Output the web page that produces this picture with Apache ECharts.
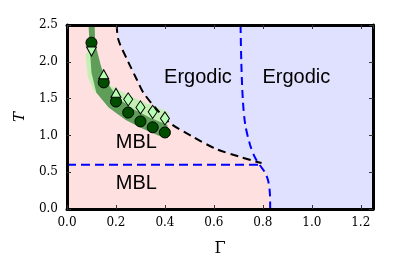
<!DOCTYPE html>
<html><head><meta charset="utf-8">
<script src="https://cdn.jsdelivr.net/npm/echarts@6/dist/echarts.min.js"></script>
<style>html,body{margin:0;padding:0;background:#fff}#c{width:415px;height:256px}</style>
</head><body><div id="c"></div>
<script>
// Phase boundary (black dashed): Gamma vs T
const blackG = [0.203, 0.21, 0.25, 0.285, 0.312, 0.36, 0.42, 0.515, 0.61, 0.705, 0.773, 0.795];
const blackT = [2.5, 2.30, 2.0, 1.76, 1.58, 1.38, 1.17, 0.98, 0.815, 0.71, 0.643, 0.625];
// Blue dashed boundary
const blueG = [0.709, 0.712, 0.718, 0.728, 0.748, 0.768, 0.787, 0.808, 0.822, 0.829, 0.83];
const blueT = [2.5, 2.0, 1.5, 1.15, 0.87, 0.70, 0.60, 0.50, 0.38, 0.20, 0.0];
// Horizontal blue dashed
const hG = [0.0, 0.787];
const hT = [0.6, 0.6];
// Pink (MBL) region outline
const pinkG = [0.0, 0.0, 0.203, 0.21, 0.25, 0.285, 0.312, 0.36, 0.42, 0.515, 0.61, 0.705, 0.773, 0.795, 0.810, 0.823, 0.830, 0.832];
const pinkT = [0.0, 2.5, 2.5, 2.30, 2.0, 1.76, 1.58, 1.38, 1.17, 0.98, 0.815, 0.71, 0.643, 0.62, 0.52, 0.38, 0.20, 0.0];
// Dark green band
const darkUpG = [0.113, 0.115, 0.14, 0.165, 0.21, 0.27, 0.34, 0.41];
const darkUpT = [2.5, 2.25, 1.93, 1.71, 1.50, 1.36, 1.24, 1.14];
const darkLoG = [0.088, 0.092, 0.10, 0.12, 0.17, 0.24, 0.31, 0.38, 0.41];
const darkLoT = [2.5, 2.25, 1.85, 1.58, 1.38, 1.21, 1.09, 0.99, 0.96];
// Light green band
const lightUpG = [0.095, 0.13, 0.176, 0.22, 0.27, 0.32, 0.37, 0.415];
const lightUpT = [2.18, 1.90, 1.68, 1.60, 1.52, 1.44, 1.38, 1.31];
const lightLoG = [0.075, 0.085, 0.11, 0.15, 0.2, 0.25, 0.3, 0.35, 0.41];
const lightLoT = [2.1, 1.8, 1.6, 1.5, 1.4, 1.33, 1.25, 1.2, 1.14];
// Circles
const circG = [0.10, 0.15, 0.20, 0.25, 0.30, 0.35, 0.40];
const circT = [2.26, 1.72, 1.46, 1.31, 1.19, 1.11, 1.04];
// Down triangle, up triangles, diamonds
const downG = [0.10];
const downT = [2.14];
const upG = [0.15, 0.20];
const upT = [1.83, 1.58];
const diaG = [0.25, 0.30, 0.35, 0.40];
const diaT = [1.49, 1.38, 1.32, 1.23];
// Annotations
const annText = ['Ergodic', 'Ergodic', 'MBL', 'MBL'];
const annG = [0.535, 0.937, 0.283, 0.283];
const annT = [1.79, 1.79, 0.90, 0.34];
const yTicks = ['0.0','0.5','1.0','1.5','2.0','2.5'];

const zip = (a, b) => a.map((v, i) => [v, b[i]]);
function polySeries(pts, fill, z) {
  return {
    type: 'custom', z: z, silent: true, clip: true,
    data: [[0, 0]],
    renderItem: function (params, api) {
      return { type: 'polygon', shape: { points: pts.map(p => api.coord(p)) }, style: { fill: fill } };
    }
  };
}
const darkPoly = zip(darkUpG, darkUpT).concat(zip(darkLoG, darkLoT).reverse());
const lightPoly = zip(lightUpG, lightUpT).concat(zip(lightLoG, lightLoT).reverse());

const tickFont = { fontFamily: 'DejaVu Serif', fontSize: 12, color: '#000' };
const chart = echarts.init(document.getElementById('c'), null, { renderer: 'canvas' });
chart.setOption({
  animation: false,
  grid: { left: 67, right: 42, top: 25, bottom: 47, containLabel: false, outerBoundsMode: 'none',
          show: true, backgroundColor: '#e0e0ff', borderWidth: 0 },
  xAxis: [{
    type: 'value', min: 0, max: 1.25, interval: 0.2, position: 'bottom', z: 10,
    name: 'Γ', nameLocation: 'middle', nameGap: 32,
    nameTextStyle: { fontFamily: 'DejaVu Serif', fontSize: 16, color: '#000' },
    axisLine: { show: true, onZero: false, lineStyle: { color: '#000', width: 3 } },
    axisTick: { inside: true, length: 4, lineStyle: { color: '#333', width: 1 } },
    axisLabel: Object.assign({ margin: 8, showMaxLabel: false, formatter: v => v.toFixed(1) }, tickFont),
    splitLine: { show: false }
  }, {
    type: 'value', min: 0, max: 1.25, interval: 0.2, position: 'top', z: 10,
    axisLine: { show: true, onZero: false, lineStyle: { color: '#000', width: 3 } },
    axisTick: { inside: true, length: 4, lineStyle: { color: '#333', width: 1 } },
    axisLabel: { show: false }, splitLine: { show: false }
  }],
  yAxis: [{
    type: 'value', min: 0, max: 2.5, interval: 0.5, position: 'left', z: 10,
    name: 'T', nameLocation: 'middle', nameGap: 37, nameRotate: 90,
    nameTextStyle: { fontFamily: 'DejaVu Serif', fontStyle: 'italic', fontSize: 15, color: '#000' },
    axisLine: { show: true, onZero: false, lineStyle: { color: '#000', width: 3 } },
    axisTick: { inside: true, length: 4, lineStyle: { color: '#333', width: 1 } },
    axisLabel: Object.assign({ margin: 9, formatter: (v) => yTicks[Math.round(v / 0.5)] }, tickFont),
    splitLine: { show: false }
  }, {
    type: 'value', min: 0, max: 2.5, interval: 0.5, position: 'right', z: 10,
    axisLine: { show: true, onZero: false, lineStyle: { color: '#000', width: 3 } },
    axisTick: { inside: true, length: 4, lineStyle: { color: '#333', width: 1 } },
    axisLabel: { show: false }, splitLine: { show: false }
  }],
  series: [
    polySeries(zip(pinkG, pinkT), '#ffe0e0', 1),
    polySeries(lightPoly, '#c6efb6', 2),
    polySeries(darkPoly, '#5e9e58', 3),
    { type: 'line', z: 4, data: zip(blackG, blackT), smooth: 0.3, symbol: 'none', silent: true,
      lineStyle: { color: '#000', width: 2, type: [8, 5] } },
    { type: 'line', z: 4, data: zip(blueG, blueT), smooth: 0.3, symbol: 'none', silent: true,
      lineStyle: { color: '#0000ff', width: 2, type: [8, 5] } },
    { type: 'line', z: 4, data: zip(hG, hT), symbol: 'none', silent: true,
      lineStyle: { color: '#0000ff', width: 2, type: [9, 5] } },
    { type: 'scatter', z: 5, data: zip(circG, circT), symbol: 'circle', symbolSize: 11,
      itemStyle: { color: '#004d00', borderColor: '#000', borderWidth: 1, opacity: 1 } },
    { type: 'scatter', z: 6, data: zip(downG, downT), symbol: 'triangle', symbolRotate: 180, symbolSize: [10, 9],
      itemStyle: { color: '#b4ffb4', borderColor: '#000', borderWidth: 1, opacity: 1 } },
    { type: 'scatter', z: 6, data: zip(upG, upT), symbol: 'triangle', symbolSize: [10, 9],
      itemStyle: { color: '#b4ffb4', borderColor: '#000', borderWidth: 1, opacity: 1 } },
    { type: 'scatter', z: 6, data: zip(diaG, diaT), symbol: 'diamond', symbolSize: [9, 13],
      itemStyle: { color: '#b4ffb4', borderColor: '#000', borderWidth: 1, opacity: 1 } },
    { type: 'custom', z: 7, silent: true,
      data: annText.map((t, i) => [annG[i], annT[i]]),
      renderItem: function (params, api) {
        const p = api.coord([api.value(0), api.value(1)]);
        return { type: 'text', x: p[0], y: p[1],
          style: { text: annText[params.dataIndex], fill: '#000', align: 'center', verticalAlign: 'middle',
                   font: '20px "Liberation Sans", Arial, sans-serif' } };
      } }
  ]
});
</script></body></html>
